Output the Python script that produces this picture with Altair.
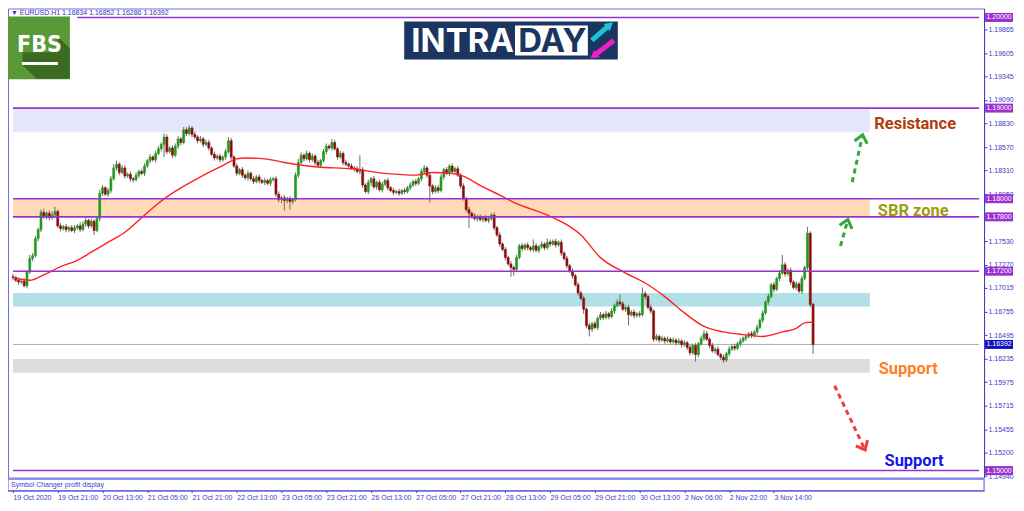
import altair as alt
import pandas as pd

# ---------------- data ----------------
first_open = 1.1714
closes = [
    1.1713, 1.1710, 1.1708, 1.1709, 1.1704, 1.1719, 1.1734, 1.1737, 1.1756, 1.1766,
    1.1785, 1.1780, 1.1784, 1.1779, 1.1782, 1.1786, 1.1770, 1.1767, 1.1769, 1.1766,
    1.1768, 1.1765, 1.1768, 1.1770, 1.1766, 1.1772, 1.1776, 1.1770, 1.1775, 1.1765,
    1.1778, 1.1806, 1.1812, 1.1805, 1.1809, 1.1822, 1.1834, 1.1838, 1.1829, 1.1834,
    1.1825, 1.1827, 1.1822, 1.1821, 1.1826, 1.1830, 1.1828, 1.1836, 1.1842, 1.1846,
    1.1843, 1.1850, 1.1855, 1.1860, 1.1868, 1.1852, 1.1856, 1.1848, 1.1858, 1.1866,
    1.1862, 1.1876, 1.1872, 1.1878, 1.1871, 1.1868, 1.1864, 1.1866, 1.1860, 1.1862,
    1.1856, 1.1849, 1.1845, 1.1847, 1.1843, 1.1846, 1.1852, 1.1864, 1.1846, 1.1836,
    1.1828, 1.1832, 1.1826, 1.1823, 1.1828, 1.1822, 1.1819, 1.1824, 1.1820, 1.1818,
    1.1820, 1.1817, 1.1821, 1.1822, 1.1805, 1.1799, 1.1801, 1.1798, 1.1800, 1.1797,
    1.1799, 1.1826, 1.1840, 1.1848, 1.1844, 1.1850, 1.1843, 1.1847, 1.1840, 1.1837,
    1.1842, 1.1852, 1.1858, 1.1856, 1.1862, 1.1855, 1.1846, 1.1850, 1.1840, 1.1838,
    1.1836, 1.1834, 1.1833, 1.1830, 1.1832, 1.1815, 1.1808, 1.1818, 1.1822, 1.1813,
    1.1818, 1.1810, 1.1816, 1.1820, 1.1812, 1.1809, 1.1807, 1.1808, 1.1806, 1.1809,
    1.1808, 1.1812, 1.1815, 1.1819, 1.1817, 1.1822, 1.1830, 1.1834, 1.1826, 1.1814,
    1.1808, 1.1812, 1.1809, 1.1824, 1.1832, 1.1828, 1.1836, 1.1830, 1.1833, 1.1826,
    1.1814, 1.1800, 1.1788, 1.1784, 1.1781, 1.1778, 1.1780, 1.1777, 1.1779, 1.1776,
    1.1778, 1.1782, 1.1768, 1.1760, 1.1750, 1.1744, 1.1735, 1.1728, 1.1724, 1.1722,
    1.1735, 1.1748, 1.1745, 1.1749, 1.1746, 1.1744, 1.1748, 1.1743, 1.1747, 1.1750,
    1.1746, 1.1752, 1.1750, 1.1753, 1.1749, 1.1752, 1.1740, 1.1734, 1.1726, 1.1720,
    1.1715, 1.1705, 1.1696, 1.1690, 1.1678, 1.1660, 1.1656, 1.1662, 1.1658, 1.1668,
    1.1672, 1.1669, 1.1673, 1.1670, 1.1676, 1.1682, 1.1686, 1.1684, 1.1678, 1.1680,
    1.1672, 1.1675, 1.1671, 1.1673, 1.1672, 1.1695, 1.1692, 1.1680, 1.1676, 1.1645,
    1.1648, 1.1644, 1.1646, 1.1643, 1.1645, 1.1642, 1.1644, 1.1641, 1.1643, 1.1639,
    1.1641, 1.1636, 1.1630, 1.1638, 1.1628, 1.1640, 1.1646, 1.1651, 1.1645, 1.1638,
    1.1632, 1.1634, 1.1628, 1.1625, 1.1622, 1.1629, 1.1634, 1.1637, 1.1635, 1.1640,
    1.1643, 1.1646, 1.1648, 1.1651, 1.1649, 1.1653, 1.1658, 1.1666, 1.1674, 1.1686,
    1.1692, 1.1705, 1.1700, 1.1712, 1.1718, 1.1727, 1.1717, 1.1721, 1.1708, 1.1702,
    1.1706, 1.1698, 1.1712, 1.1724, 1.1762, 1.16834, 1.16392,
]
# wick lengths above / below the body, in pips
up_wick = [
    3, 2, 3, 2, 3, 2, 4, 3, 3, 2, 3, 4, 2, 3, 4, 5, 2, 3, 2, 3,
    2, 3, 3, 2, 4, 3, 3, 2, 3, 2, 3, 4, 3, 2, 3, 3, 4, 4, 2, 3,
    3, 2, 3, 2, 3, 2, 3, 3, 2, 3, 2, 3, 3, 2, 4, 3, 2, 3, 3, 3,
    2, 3, 3, 3, 2, 3, 2, 3, 2, 3, 3, 2, 3, 2, 3, 2, 3, 4, 3, 2,
    3, 2, 3, 2, 3, 2, 3, 2, 3, 2, 3, 2, 3, 2, 3, 3, 2, 3, 2, 3,
    2, 3, 4, 3, 2, 3, 2, 3, 2, 3, 2, 3, 3, 2, 4, 3, 2, 3, 2, 3,
    2, 3, 2, 3, 16, 3, 2, 3, 2, 3, 2, 3, 3, 2, 3, 2, 3, 2, 3, 2,
    3, 2, 3, 2, 3, 2, 3, 3, 2, 3, 2, 3, 3, 3, 2, 3, 2, 3, 2, 3,
    2, 3, 2, 3, 2, 3, 2, 3, 2, 3, 3, 2, 3, 2, 3, 2, 3, 2, 3, 2,
    3, 2, 3, 2, 3, 2, 7, 3, 2, 3, 2, 4, 3, 2, 3, 2, 3, 2, 3, 2,
    3, 2, 3, 2, 3, 2, 3, 2, 3, 2, 3, 2, 3, 2, 3, 2, 3, 8, 3, 2,
    3, 2, 3, 2, 3, 7, 3, 2, 3, 2, 3, 2, 3, 2, 3, 2, 3, 2, 3, 2,
    3, 2, 3, 2, 3, 2, 3, 4, 3, 2, 3, 2, 3, 2, 3, 2, 3, 2, 3, 2,
    3, 2, 3, 2, 3, 2, 3, 2, 3, 2, 3, 2, 3, 2, 3, 11, 3, 2, 3, 2,
    3, 2, 3, 2, 7, 2, 1.8,
]
down_wick = [
    3, 2, 3, 2, 2, 3, 2, 3, 2, 3, 3, 2, 3, 3, 2, 3, 2, 3, 2, 3,
    3, 2, 3, 2, 3, 2, 3, 3, 2, 5, 2, 3, 3, 2, 3, 3, 2, 3, 3, 2,
    3, 2, 3, 3, 2, 3, 2, 3, 2, 3, 2, 3, 2, 3, 14, 3, 2, 3, 2, 3,
    3, 2, 3, 2, 3, 2, 3, 2, 3, 2, 3, 2, 3, 2, 3, 2, 3, 2, 3, 2,
    3, 2, 3, 2, 3, 2, 3, 2, 3, 2, 3, 2, 3, 2, 3, 3, 4, 11, 3, 9,
    3, 2, 3, 2, 3, 2, 3, 2, 3, 2, 3, 2, 3, 2, 3, 2, 3, 2, 3, 2,
    3, 2, 3, 2, 3, 3, 2, 3, 4, 2, 3, 2, 3, 2, 3, 2, 3, 2, 3, 2,
    3, 2, 3, 2, 3, 2, 3, 2, 3, 18, 3, 2, 3, 2, 3, 2, 3, 2, 3, 2,
    3, 2, 3, 16, 3, 2, 3, 2, 3, 2, 3, 2, 3, 2, 3, 2, 3, 2, 10, 7,
    3, 2, 3, 2, 3, 2, 3, 2, 3, 2, 3, 2, 3, 2, 3, 2, 3, 2, 3, 2,
    3, 2, 3, 2, 5, 3, 8, 3, 2, 3, 2, 3, 2, 3, 2, 3, 2, 3, 2, 3,
    12, 2, 3, 2, 3, 2, 3, 2, 3, 3, 2, 3, 2, 3, 2, 3, 2, 3, 2, 3,
    2, 3, 3, 2, 8, 3, 2, 3, 2, 3, 2, 3, 2, 3, 3, 2, 3, 2, 3, 2,
    3, 2, 3, 2, 3, 2, 3, 2, 3, 2, 3, 2, 3, 2, 3, 2, 3, 2, 3, 2,
    3, 2, 3, 2, 3, 3, 10.6,
]
assert len(closes) == len(up_wick) == len(down_wick) == 287

tick_labels = ["19 Oct 2020", "19 Oct 21:00", "20 Oct 13:00", "21 Oct 05:00", "21 Oct 21:00",
               "22 Oct 13:00", "23 Oct 05:00", "23 Oct 21:00", "26 Oct 13:00", "27 Oct 05:00",
               "27 Oct 21:00", "28 Oct 13:00", "29 Oct 05:00", "29 Oct 21:00", "30 Oct 13:00",
               "2 Nov 06:00", "2 Nov 22:00", "3 Nov 14:00"]
tick_every = 16

ma_bar = [0, 6, 11, 17, 23, 28, 34, 40, 46, 52, 55, 60, 67, 74, 80, 83, 90, 97, 109, 121, 133,
          144, 150, 156, 160, 168, 174, 179, 191, 197, 203, 210, 219, 226, 233, 240, 247, 254,
          261, 268, 275, 280, 283, 286]
ma_val = [1.1713, 1.1710, 1.1716, 1.1725, 1.1732, 1.1741, 1.1752, 1.1763, 1.1779, 1.1795, 1.1802,
          1.1812, 1.1824, 1.1835, 1.1844, 1.1845, 1.1844, 1.1840, 1.1835, 1.1833, 1.1828, 1.1826,
          1.1829, 1.1828, 1.1826, 1.1813, 1.1804, 1.1796, 1.1782, 1.1773, 1.1760, 1.1735, 1.1718,
          1.1707, 1.1692, 1.1674, 1.1659, 1.1653, 1.1650, 1.1648, 1.1653, 1.1657, 1.1663, 1.1664]

# right-axis labels that are visible in the reference (1.17790 is hidden under the 1.17800 tag)
y_ticks = [1.20125, 1.19865, 1.19605, 1.19345, 1.19090, 1.18830, 1.18570, 1.18310, 1.18050,
           1.17530, 1.17270, 1.17015, 1.16755, 1.16495, 1.16235, 1.15975, 1.15715,
           1.15455, 1.15200, 1.14940]

level_prices = [1.20, 1.19, 1.18, 1.178, 1.172, 1.15]
level_start = [23, 0, 0, 0, 0, 0]
current_price = 1.16392

zone_low = [1.18733, 1.1780, 1.1681, 1.1608]
zone_high = [1.1900, 1.1800, 1.1696, 1.1623]
zone_colors = ["#e6e6fa", "#ffdab9", "#b0e0e6", "#dcdcdc"]
zone_end = 306.3

note_text = ["Resistance", "SBR zone", "Support", "Support"]
note_bar = [322.5, 321.8, 320.0, 322.1]
note_price = [1.18822, 1.17863, 1.16123, 1.15110]
note_color = ["#b23c0e", "#9c9c12", "#ff7f27", "#1414e6"]

arrow_bar0 = [300.0, 295.8, 293.7]
arrow_p0 = [1.18183, 1.17478, 1.15936]
arrow_bar1 = [303.5, 298.2, 304.2]
arrow_p1 = [1.18678, 1.17742, 1.15253]
arrow_angle = [12.5, 16, 154]
arrow_color = ["#34a83a", "#34a83a", "#f03c3c"]

header = "\u25bc EURUSD.H1  1.16834 1.16852 1.16286 1.16392"

# ---------------- layout / style ----------------
W, H = 978, 470
PX_PER_BAR = 2.832
XMAX = W / PX_PER_BAR
YMAX, YMIN = 1.200991, 1.149229
BLUE = "#3c3cc8"
FRAME = "#6c6ce6"
PURPLE = "#9b30d0"
FONT = "Liberation Sans"

rows = []
o = first_open
for j, c in enumerate(closes):
    rows.append(dict(bar=j, open=o, close=c,
                     high=max(o, c) + up_wick[j] * 1e-4,
                     low=min(o, c) - down_wick[j] * 1e-4,
                     dir="up" if c >= o else "down"))
    o = c
candles = pd.DataFrame(rows)

xs = alt.Scale(domain=[0, XMAX], nice=False, zero=False)
ys = alt.Scale(domain=[YMIN, YMAX], nice=False, zero=False)
label_expr = "[" + ",".join("'%s'" % t for t in tick_labels) + "][round(datum.value/%d)]" % tick_every
x_axis = alt.Axis(values=[k * tick_every for k in range(len(tick_labels))], labelExpr=label_expr,
                  orient="bottom", offset=13, tickSize=2, labelAlign="left", labelPadding=1,
                  labelFontSize=7, labelFont=FONT, labelColor=BLUE, tickColor=BLUE,
                  domainColor=BLUE, grid=False, title=None, labelFlush=False, labelOverlap=False)
y_axis = alt.Axis(orient="right", values=[v for v in y_ticks if YMIN <= v <= YMAX], format=".5f",
                  tickSize=3, labelPadding=1, labelFontSize=7, labelFont=FONT, labelColor=BLUE,
                  tickColor=BLUE, domainColor=BLUE, grid=False, title=None,
                  labelOverlap=False, labelFlush=False)


def X(f):
    return alt.X(f, scale=xs, axis=x_axis, title=None)


def Y(f):
    return alt.Y(f, scale=ys, axis=y_axis, title=None)


zones_df = pd.DataFrame({"x0": [0.0] * 4, "x1": [zone_end] * 4, "lo": zone_low,
                         "hi": zone_high, "col": zone_colors})
zones = alt.Chart(zones_df).mark_rect(clip=True).encode(
    x=X("x0:Q"), x2="x1:Q", y=Y("lo:Q"), y2="hi:Q", color=alt.Color("col:N", scale=None))

cur_df = pd.DataFrame({"x0": [0.0], "x1": [XMAX], "price": [current_price]})
cur_line = alt.Chart(cur_df).mark_rule(color="#a9a9a9", strokeWidth=1).encode(
    x=X("x0:Q"), x2="x1:Q", y=Y("price:Q"))

wicks = alt.Chart(candles).mark_rule(color="#6b6b6b", strokeWidth=1, clip=True).encode(
    x=X("bar:Q"), y=Y("low:Q"), y2="high:Q")
body_scale = alt.Scale(domain=["up", "down"], range=["#1f9a1f", "#8e0a0a"])
bodies = alt.Chart(candles).mark_bar(size=2, clip=True, strokeWidth=0.6).encode(
    x=X("bar:Q"), y=Y("open:Q"), y2="close:Q",
    color=alt.Color("dir:N", scale=body_scale, legend=None),
    stroke=alt.Stroke("dir:N", scale=body_scale, legend=None))

ma_df = pd.DataFrame({"bar": ma_bar, "ma": ma_val})
ma_line = alt.Chart(ma_df).mark_line(color="#ff2020", strokeWidth=1.4, interpolate="monotone",
                                     clip=True).encode(x=X("bar:Q"), y=Y("ma:Q"))

lv_df = pd.DataFrame({"x0": level_start, "x1": [XMAX] * len(level_prices), "price": level_prices})
levels = alt.Chart(lv_df).mark_rule(color=PURPLE, strokeWidth=1.6).encode(
    x=X("x0:Q"), x2="x1:Q", y=Y("price:Q"))

badge_df = pd.DataFrame({"price": level_prices + [current_price],
                         "col": [PURPLE] * len(level_prices) + ["#1010c0"]})
badge_df["label"] = badge_df["price"].map(lambda v: "%.5f" % v)
badges = alt.Chart(badge_df).mark_rect(yOffset=-4.5, y2Offset=4.5).encode(
    x=alt.value(W + 1), x2=alt.value(W + 29), y=Y("price:Q"), y2="price:Q",
    color=alt.Color("col:N", scale=None))
badge_txt = alt.Chart(badge_df).mark_text(color="white", fontSize=7, font=FONT, align="center",
                                          baseline="middle").encode(
    x=alt.value(W + 15), y=Y("price:Q"), text="label:N")

notes_df = pd.DataFrame({"bar": note_bar, "price": note_price, "t": note_text, "col": note_color})
notes = alt.Chart(notes_df).mark_text(font="Roboto", fontWeight="bold", fontSize=16.5,
                                      align="center", baseline="middle").encode(
    x=X("bar:Q"), y=Y("price:Q"), text="t:N", color=alt.Color("col:N", scale=None))

ar_df = pd.DataFrame({"b0": arrow_bar0, "p0": arrow_p0, "b1": arrow_bar1, "p1": arrow_p1,
                      "ang": arrow_angle, "col": arrow_color})
shafts = alt.Chart(ar_df).mark_rule(strokeWidth=3, strokeDash=[5, 4]).encode(
    x=X("b0:Q"), y=Y("p0:Q"), x2="b1:Q", y2="p1:Q", color=alt.Color("col:N", scale=None))
heads = alt.Chart(ar_df).mark_point(shape="M-1,0.8L0,-0.4L1,0.8", filled=False, strokeWidth=3,
                                    size=170, opacity=1).encode(
    x=X("b1:Q"), y=Y("p1:Q"), angle=alt.Angle("ang:Q", scale=None),
    stroke=alt.Stroke("col:N", scale=None))

one = pd.DataFrame({"t": [header]})
head_txt = alt.Chart(one).mark_text(font=FONT, fontSize=7, color="#3535b0", align="left",
                                    baseline="top").encode(
    x=alt.value(3), y=alt.value(1), text="t:N")

# FBS logo
fbs_bg = alt.Chart(one).mark_rect(color="#5a9838").encode(
    x=alt.value(0), x2=alt.value(62), y=alt.value(8), y2=alt.value(71))
fbs_shadow = alt.Chart(one).mark_point(
    shape="M0.59,-0.39L1,0.02L1,1L-0.08,1L-0.53,0.55L-0.53,0.14L0.59,0.14Z",
    filled=True, color="#3a6b20", size=3844, opacity=1).encode(x=alt.value(31), y=alt.value(39.5))
fbs_txt = alt.Chart(pd.DataFrame({"t": ["FBS"]})).mark_text(
    font="DejaVu Sans Condensed", fontWeight="bold", fontSize=23, color="white", align="center",
    baseline="alphabetic").encode(x=alt.value(31.5), y=alt.value(44), text="t:N")
fbs_bar = alt.Chart(one).mark_rect(color="white").encode(
    x=alt.value(14), x2=alt.value(50), y=alt.value(53.5), y2=alt.value(56.5))

# INTRADAY logo
id_bg = alt.Chart(one).mark_rect(color="#1b3560").encode(
    x=alt.value(397), x2=alt.value(611), y=alt.value(13), y2=alt.value(51))
id_box = alt.Chart(one).mark_rect(color="white").encode(
    x=alt.value(508), x2=alt.value(581), y=alt.value(17), y2=alt.value(47))
id_t1 = alt.Chart(pd.DataFrame({"t": ["INTRA"]})).mark_text(
    font="Inter", fontWeight="bold", fontSize=33, color="white", align="center",
    baseline="alphabetic").encode(x=alt.value(455.5), y=alt.value(44), text="t:N")
id_t2 = alt.Chart(pd.DataFrame({"t": ["DAY"]})).mark_text(
    font="Inter", fontWeight="bold", fontSize=33, color="#1b3560", align="center",
    baseline="alphabetic").encode(x=alt.value(545.5), y=alt.value(44), text="t:N")
id_a1 = alt.Chart(one).mark_rule(color="#19c8d2", strokeWidth=5).encode(
    x=alt.value(585), y=alt.value(32), x2=alt.value(600), y2=alt.value(19))
id_h1 = alt.Chart(one).mark_point(shape="triangle-up", filled=True, color="#19c8d2", size=90,
                                  angle=49.6, opacity=1).encode(x=alt.value(603), y=alt.value(16.5))
id_a2 = alt.Chart(one).mark_rule(color="#f01ec8", strokeWidth=5).encode(
    x=alt.value(607), y=alt.value(32), x2=alt.value(590), y2=alt.value(45))
id_h2 = alt.Chart(one).mark_point(shape="triangle-up", filled=True, color="#f01ec8", size=90,
                                  angle=232.3, opacity=1).encode(x=alt.value(587), y=alt.value(47.5))

# indicator sub-panel under the price panel
sub_box = alt.Chart(one).mark_rect(fill="white", stroke=FRAME, strokeWidth=1.2).encode(
    x=alt.value(0), x2=alt.value(W), y=alt.value(H + 1.5), y2=alt.value(H + 13))
sub_txt = alt.Chart(pd.DataFrame({"t": ["Symbol Changer profit display"]})).mark_text(
    font=FONT, fontSize=7, color=BLUE, align="left", baseline="middle").encode(
    x=alt.value(3), y=alt.value(H + 7.5), text="t:N")

chart = alt.layer(
    zones, cur_line, wicks, bodies, ma_line, levels, badges, badge_txt, notes, shafts, heads,
    head_txt, fbs_bg, fbs_shadow, fbs_txt, fbs_bar,
    id_bg, id_box, id_t1, id_t2, id_a1, id_h1, id_a2, id_h2, sub_box, sub_txt,
).properties(
    width=W, height=H, background="white",
    autosize=alt.AutoSizeParams(type="none"),
    padding={"left": 0, "top": 0, "right": 32, "bottom": 26},
).configure_view(stroke=FRAME, strokeWidth=1)

chart.save("out.html", embed_options={"renderer": "svg", "actions": False})
